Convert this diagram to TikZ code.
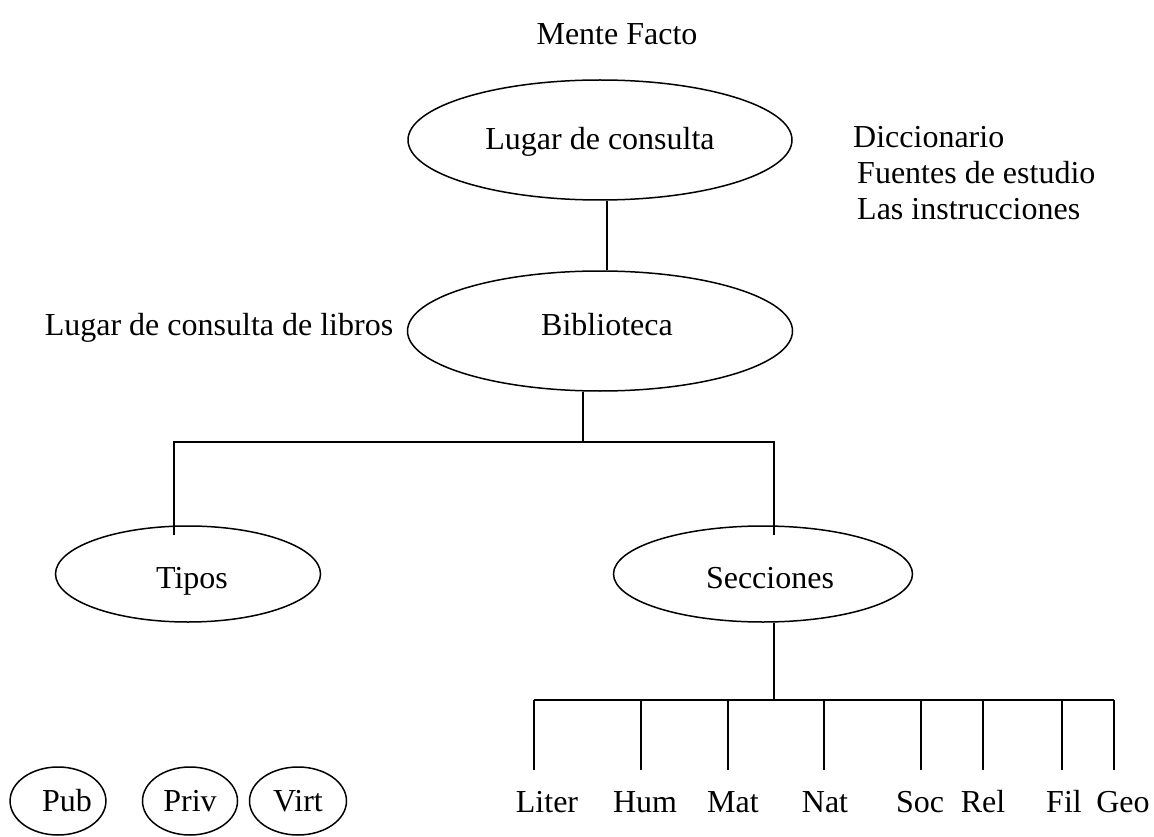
\documentclass[tikz,border=0pt]{standalone}
\usepackage{fontspec}
\setmainfont{Liberation Serif}
\usepackage{tikz}
\usetikzlibrary{shapes}
\usetikzlibrary{calc}

\tikzset{
    texto/.style={font=\fontsize{32}{38}\selectfont, inner sep=0pt, text height=21pt, text depth=7pt},
    elipse/.style={ellipse, draw=black, line width=1.5pt, texto},
    rama/.style={draw=black, line width=1.5pt}
}

\begin{document}
\begin{tikzpicture}[x=1pt,y=-1pt]
    \useasboundingbox (0,0) rectangle (1154,837);
    \node (titulo) [texto] at (617,38) {Mente Facto};
    \node (lugar) [elipse, minimum width=384pt, minimum height=120pt] at (600,140) {\raisebox{-3pt}{Lugar de consulta}};
    \node (dic) [texto, anchor=west] at (853,141) {Diccionario};
    \node (fue) [texto, anchor=west] at (857,177) {Fuentes de estudio};
    \node (ins) [texto, anchor=west] at (857,213) {Las instrucciones};
    \node (biblio) [elipse, minimum width=385pt, minimum height=120pt] at (600,331) {\hspace{14pt}\raisebox{3pt}{Biblioteca}};
    \node (libros) [texto] at (219,328) {Lugar de consulta de libros};
    \node (tipos) [elipse, minimum width=265pt, minimum height=96pt] at (188,574) {\hspace{8pt}\raisebox{-7pt}{Tipos}};
    \node (secc) [elipse, minimum width=299pt, minimum height=96pt] at (763,574) {\hspace{14pt}\raisebox{-7pt}{Secciones}};
    \node (pub) [elipse, minimum width=90pt, minimum height=68pt] at (58,801) {\hspace{18pt}\raisebox{-3pt}{Pub}};
    \node (priv) [elipse, minimum width=95pt, minimum height=68pt] at (190,801) {\raisebox{-3pt}{Priv}};
    \node (virt) [elipse, minimum width=97pt, minimum height=68pt] at (298,801) {\raisebox{-3pt}{Virt}};

    % arbol
    \coordinate (nudo) at (583,442);
    \coordinate (barra) at (774,700);
    \draw [rama] ([xshift=7pt]lugar.south) -- ([xshift=7pt]biblio.north);
    \draw [rama] ([xshift=-17pt]biblio.south) -- (nudo);
    \draw [rama] ([xshift=-14pt, yshift=-10pt]tipos.north) |- (nudo) -| ([xshift=11pt, yshift=-10pt]secc.north);
    \draw [rama] ([xshift=11pt]secc.south) -- (barra);
    \draw [rama] (534,700) -- (1114,700);
    \foreach \x/\lx/\nom in {534/547/Liter, 641/645/Hum, 728/733/Mat, 824/825/Nat, 921/920/Soc, 983/983/Rel, 1062/1064/Fil, 1114/1123/Geo} {
        \coordinate (b\nom) at (\x,700);
        \coordinate (f\nom) at (\x,770);
        \draw [rama] (b\nom) -- (f\nom);
        \node (n\nom) [texto] at (\lx,805) {\nom};
    }
\end{tikzpicture}
\end{document}
